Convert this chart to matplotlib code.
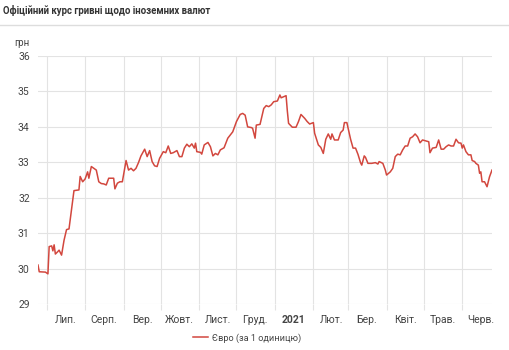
import matplotlib
matplotlib.use("Agg")
import matplotlib.pyplot as plt
import matplotlib.dates as mdates
import pandas as pd

title = "Офіційний курс гривні щодо іноземних валют"
unit_label = "грн"
series_name = "Євро (за 1 одиницю)"

dates = [
    "2020-06-24", "2020-06-25", "2020-06-30", "2020-07-02", "2020-07-03", "2020-07-05",
    "2020-07-06", "2020-07-07", "2020-07-08", "2020-07-10", "2020-07-11", "2020-07-13",
    "2020-07-15", "2020-07-17", "2020-07-19", "2020-07-21", "2020-07-23", "2020-07-27",
    "2020-07-28", "2020-07-30", "2020-08-01", "2020-08-03", "2020-08-04", "2020-08-06",
    "2020-08-10", "2020-08-12", "2020-08-14", "2020-08-16", "2020-08-18", "2020-08-20",
    "2020-08-24", "2020-08-25", "2020-08-27", "2020-08-29", "2020-08-31", "2020-09-03",
    "2020-09-05", "2020-09-07", "2020-09-09", "2020-09-11", "2020-09-13", "2020-09-15",
    "2020-09-18", "2020-09-20", "2020-09-22", "2020-09-24", "2020-09-26", "2020-09-28",
    "2020-09-30", "2020-10-03", "2020-10-05", "2020-10-07", "2020-10-09", "2020-10-11",
    "2020-10-14", "2020-10-16", "2020-10-18", "2020-10-20", "2020-10-22", "2020-10-24",
    "2020-10-26", "2020-10-28", "2020-10-29", "2020-10-30", "2020-11-02", "2020-11-03",
    "2020-11-05", "2020-11-08", "2020-11-10", "2020-11-12", "2020-11-14", "2020-11-16",
    "2020-11-18", "2020-11-21", "2020-11-24", "2020-11-26", "2020-11-28", "2020-12-01",
    "2020-12-04", "2020-12-06", "2020-12-08", "2020-12-10", "2020-12-13", "2020-12-14",
    "2020-12-16", "2020-12-17", "2020-12-20", "2020-12-23", "2020-12-25", "2020-12-27",
    "2020-12-29", "2020-12-31", "2021-01-03", "2021-01-05", "2021-01-06", "2021-01-08",
    "2021-01-10", "2021-01-11", "2021-01-12", "2021-01-15", "2021-01-18", "2021-01-20",
    "2021-01-22", "2021-01-25", "2021-01-27", "2021-01-29", "2021-02-01", "2021-02-02",
    "2021-02-05", "2021-02-07", "2021-02-09", "2021-02-11", "2021-02-13", "2021-02-15",
    "2021-02-16", "2021-02-18", "2021-02-21", "2021-02-23", "2021-02-25", "2021-02-26",
    "2021-02-28", "2021-03-03", "2021-03-05", "2021-03-07", "2021-03-09", "2021-03-11",
    "2021-03-12", "2021-03-14", "2021-03-15", "2021-03-17", "2021-03-20", "2021-03-23",
    "2021-03-25", "2021-03-26", "2021-03-29", "2021-03-31", "2021-04-01", "2021-04-04",
    "2021-04-06", "2021-04-08", "2021-04-10", "2021-04-12", "2021-04-14", "2021-04-16",
    "2021-04-18", "2021-04-20", "2021-04-22", "2021-04-24", "2021-04-26", "2021-04-28",
    "2021-04-30", "2021-05-02", "2021-05-05", "2021-05-06", "2021-05-08", "2021-05-11",
    "2021-05-13", "2021-05-15", "2021-05-17", "2021-05-19", "2021-05-21", "2021-05-23",
    "2021-05-25", "2021-05-27", "2021-05-29", "2021-05-31", "2021-06-01", "2021-06-02",
    "2021-06-04", "2021-06-06", "2021-06-08", "2021-06-09", "2021-06-11", "2021-06-12",
    "2021-06-14", "2021-06-15", "2021-06-16", "2021-06-17", "2021-06-19", "2021-06-21",
    "2021-06-23", "2021-06-25",
]

values = [
    30.10, 29.91, 29.90, 29.85, 30.62, 30.64,
    30.50, 30.67, 30.41, 30.48, 30.52, 30.38,
    30.80, 31.10, 31.12, 31.65, 32.20, 32.22,
    32.60, 32.45, 32.53, 32.73, 32.55, 32.88,
    32.78, 32.45, 32.40, 32.39, 32.36, 32.55,
    32.55, 32.25, 32.41, 32.45, 32.45, 33.05,
    32.78, 32.83, 32.76, 32.83, 32.99, 33.18,
    33.37, 33.16, 33.33, 33.02, 32.90, 32.88,
    33.11, 33.30, 33.27, 33.46, 33.25, 33.27,
    33.33, 33.16, 33.16, 33.40, 33.51, 33.44,
    33.52, 33.40, 33.54, 33.30, 33.28, 33.23,
    33.49, 33.56, 33.44, 33.18, 33.25, 33.21,
    33.35, 33.41, 33.68, 33.77, 33.86, 34.15,
    34.35, 34.38, 34.33, 34.00, 33.98, 33.96,
    33.68, 34.05, 34.07, 34.52, 34.60, 34.57,
    34.62, 34.71, 34.73, 34.90, 34.82, 34.85,
    34.88, 34.45, 34.10, 33.99, 33.99, 34.15,
    34.35, 34.24, 34.15, 34.08, 34.12, 33.82,
    33.49, 33.42, 33.25, 33.65, 33.80, 33.65,
    33.80, 33.63, 33.63, 33.84, 33.91, 34.12,
    34.12, 33.65, 33.40, 33.40, 33.22, 32.99,
    32.92, 33.18, 33.14, 32.97, 32.97, 32.99,
    32.95, 33.02, 32.97, 32.78, 32.64, 32.73,
    32.83, 33.16, 33.23, 33.21, 33.35, 33.46,
    33.46, 33.68, 33.72, 33.80, 33.72, 33.55,
    33.63, 33.61, 33.58, 33.27, 33.40, 33.42,
    33.63, 33.37, 33.37, 33.44, 33.49, 33.46,
    33.46, 33.65, 33.55, 33.54, 33.40, 33.49,
    33.30, 33.21, 33.21, 33.05, 33.02, 32.97,
    32.92, 32.69, 32.73, 32.45, 32.45, 32.31,
    32.59, 32.78,
]

month_starts = ["2020-07-01", "2020-08-01", "2020-09-01", "2020-10-01", "2020-11-01",
                "2020-12-01", "2021-01-01", "2021-02-01", "2021-03-01", "2021-04-01",
                "2021-05-01", "2021-06-01"]
month_label_dates = ["2020-07-16", "2020-08-16", "2020-09-16", "2020-10-16", "2020-11-16",
                     "2020-12-16", "2021-01-16", "2021-02-16", "2021-03-16", "2021-04-16",
                     "2021-05-16", "2021-06-16"]
month_labels = ["Лип.", "Серп.", "Вер.", "Жовт.", "Лист.", "Груд.", "2021",
                "Лют.", "Бер.", "Квіт.", "Трав.", "Черв."]
y_ticks = [29, 30, 31, 32, 33, 34, 35, 36]

plt.rcParams['font.family'] = ['Roboto', 'DejaVu Sans']

x = pd.to_datetime(dates)
fig = plt.figure(figsize=(5.09, 3.5), dpi=100)
ax = fig.add_axes([38/509, 1-304/350, (492-38)/509, (304-56)/350])

line_color = "#d2473e"
ax.plot(x, values, color=line_color, lw=1.1, label=series_name)

ax.set_ylim(29, 36)
ax.set_yticks(y_ticks)
ax.set_xlim(x[0], x[-1])

ax.set_xticks(pd.to_datetime(month_starts))
ax.set_xticklabels([])
ax.set_xticks(pd.to_datetime(month_label_dates), minor=True)
ax.set_xticklabels(month_labels, minor=True)
for lbl in ax.get_xticklabels(minor=True):
    if lbl.get_text() == "2021":
        lbl.set_fontweight("bold")
        lbl.set_color("#222222")

ax.tick_params(axis='x', which='major', length=4, width=0.8, color="#e3e3e3")
ax.tick_params(axis='x', which='minor', length=0, pad=8, labelsize=7.5, labelcolor="#444444")
ax.tick_params(axis='y', length=0, pad=6, labelsize=7.5, labelcolor="#444444")
ax.grid(True, which='major', color="#e3e3e3", lw=0.8)
ax.set_axisbelow(True)
for s in ax.spines.values():
    s.set_visible(False)

fig.text(3/509, 1-10/350, title, fontsize=6.9, fontweight='bold', color="#333333",
         ha='left', va='center')
fig.add_artist(plt.Line2D([0, 1], [1-25/350, 1-25/350], color="#dddddd", lw=1.0,
                          transform=fig.transFigure))
fig.text(22/509, 1-43/350, unit_label, fontsize=7, color="#444444", ha='center', va='center')

leg = fig.legend(loc='center', bbox_to_anchor=(247/509, 1-338/350), frameon=False,
                 fontsize=6.6, handlelength=1.6, handletextpad=0.4)
for t in leg.get_texts():
    t.set_color("#444444")

fig.savefig("out.png", dpi=100, facecolor="white")
